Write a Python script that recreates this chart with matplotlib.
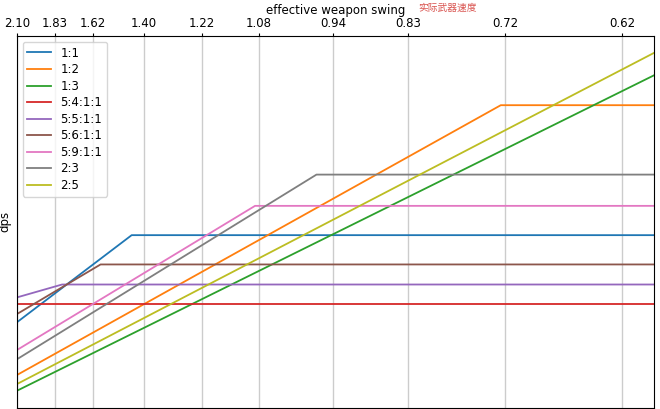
import numpy as np
import matplotlib.pyplot as plt

# swing speed multiplier (x) and the swing time shown on the top axis
tick_mult = [1.0, 1.15, 1.3, 1.5, 1.725, 1.95, 2.2425, 2.535, 2.915, 3.375]
tick_labels = ["2.10", "1.83", "1.62", "1.40", "1.22", "1.08", "0.94", "0.83", "0.72", "0.62"]

# each series: vertices (x, dps)
names = ["1:1", "1:2", "1:3", "5:4:1:1", "5:5:1:1", "5:6:1:1", "5:9:1:1", "2:3", "2:5"]
xs = [
    [1.0, 1.451, 3.5],
    [1.0, 2.899, 3.5],
    [1.0, 3.5],
    [1.0, 3.5],
    [1.0, 1.178, 3.5],
    [1.0, 1.329, 3.5],
    [1.0, 1.935, 3.5],
    [1.0, 2.176, 3.5],
    [1.0, 3.5],
]
ys = [
    [100.0, 144.4, 144.4],
    [73.2, 210.5, 210.5],
    [65.2, 225.7],
    [109.2, 109.2],
    [112.7, 119.3, 119.3],
    [104.2, 129.5, 129.5],
    [85.9, 159.3, 159.3],
    [81.2, 175.2, 175.2],
    [68.6, 237.1],
]

fig = plt.figure(figsize=(6.6, 4.09), dpi=100)
ax = fig.add_axes([0.0253, 0.003, 0.9656, 0.909])

for name, x, y in zip(names, xs, ys):
    ax.plot(x, y, lw=1.3, label=name)

ax.set_xlim(1.0, 3.5)
ax.xaxis.tick_top()
ax.xaxis.set_label_position('top')
ax.set_xticks(tick_mult)
ax.set_xticklabels(tick_labels, fontsize=8.5)
ax.tick_params(axis='x', length=2.5, pad=2)
ax.set_xlabel("effective weapon swing", fontsize=8.5, labelpad=2)
ax.grid(axis='x', color='#cccccc', lw=1)
ax.set_yticks([])
ax.set_ylabel("dps", fontsize=8.5)
ax.yaxis.set_label_coords(-0.008, 0.5)

fig.text(0.678, 0.98, "实际武器速度", color='#d9534f', fontsize=7,
         family=['Noto Sans CJK SC', 'DejaVu Sans'], ha='center', va='center')

ax.legend(loc='upper left', fontsize=8.5, labelspacing=0.3)

fig.savefig("out.png", dpi=100)
